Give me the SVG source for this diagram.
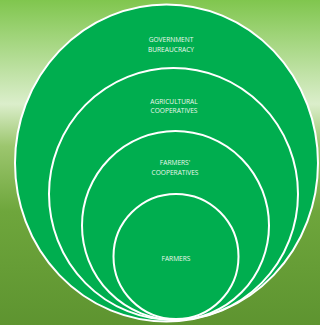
<svg xmlns="http://www.w3.org/2000/svg" width="320" height="325" viewBox="0 0 320 325">
<defs>
<linearGradient id="bg" x1="0" y1="0" x2="0" y2="1">
<stop offset="0" stop-color="#80c64e"/>
<stop offset="0.32" stop-color="#dbeecb"/>
<stop offset="0.45" stop-color="#9cc66e"/>
<stop offset="0.65" stop-color="#6ea63c"/>
<stop offset="1" stop-color="#5e9430"/>
</linearGradient>
</defs>
<style>
.c{fill:#00ae4f;stroke:#ffffff;stroke-width:2}
.t{fill:#eef8ee;font-family:"Open Sans","Liberation Sans",sans-serif;font-size:6.6px;text-anchor:middle}
</style>
<rect x="0" y="0" width="320" height="325" fill="url(#bg)"/>
<g id="government">
<ellipse class="c" cx="166.5" cy="163" rx="151.5" ry="158.5"/>
<text class="t" x="171" y="42">GOVERNMENT</text>
<text class="t" x="171" y="52">BUREAUCRACY</text>
</g>
<g id="agricultural">
<ellipse class="c" cx="173.5" cy="194" rx="124.5" ry="126"/>
<text class="t" x="174" y="104">AGRICULTURAL</text>
<text class="t" x="174" y="113">COOPERATIVES</text>
</g>
<g id="farmers-coop">
<ellipse class="c" cx="175.5" cy="225.5" rx="93.5" ry="94.5"/>
<text class="t" x="175" y="165">FARMERS'</text>
<text class="t" x="175" y="175">COOPERATIVES</text>
</g>
<g id="farmers">
<ellipse class="c" cx="176" cy="256.5" rx="62.5" ry="62.5"/>
<text class="t" x="176" y="261">FARMERS</text>
</g>
<g id="connectors"/>
</svg>
